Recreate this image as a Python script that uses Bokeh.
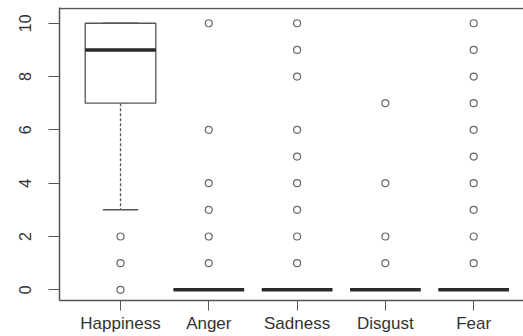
from bokeh.plotting import figure
from bokeh.models import Range1d, FixedTicker, ColumnDataSource
from bokeh.embed import file_html
from bokeh.resources import INLINE

categories = ["Happiness", "Anger", "Sadness", "Disgust", "Fear"]
q1 = [7, 0, 0, 0, 0]
median = [9, 0, 0, 0, 0]
q3 = [10, 0, 0, 0, 0]
whisker_low = [3, 0, 0, 0, 0]
whisker_high = [10, 0, 0, 0, 0]
outliers = {
    "Happiness": [2, 1, 0],
    "Anger": [10, 6, 4, 3, 2, 1],
    "Sadness": [10, 9, 8, 6, 5, 4, 3, 2, 1],
    "Disgust": [7, 4, 2, 1],
    "Fear": [10, 9, 8, 7, 6, 5, 4, 3, 2, 1],
}
y_ticks = [0, 2, 4, 6, 8, 10]

pos = list(range(1, len(categories) + 1))
half = 0.4
cap = 0.2
line_col = "#555555"
text_col = "#333333"
font = "Liberation Sans"
y_top = 10.59

p = figure(width=523, height=336, output_backend="svg", toolbar_location=None,
           x_range=Range1d(0.309, 5.564), y_range=Range1d(-0.40, y_top),
           min_border_left=59, min_border_bottom=36, min_border_top=7, min_border_right=0)
p.grid.visible = False
p.outline_line_color = None
p.background_fill_color = "white"
p.border_fill_color = "white"

src = ColumnDataSource(dict(
    x=pos,
    left=[x - half for x in pos], right=[x + half for x in pos],
    cl=[x - cap for x in pos], cr=[x + cap for x in pos],
    q1=q1, q3=q3, med=median, lo=whisker_low, hi=whisker_high,
))

# whiskers
p.segment(x0="x", y0="q1", x1="x", y1="lo", source=src, line_color=line_col,
          line_width=1.3, line_dash="3 2")
p.segment(x0="x", y0="q3", x1="x", y1="hi", source=src, line_color=line_col,
          line_width=1.3, line_dash="3 2")
# caps
p.segment(x0="cl", y0="lo", x1="cr", y1="lo", source=src, line_color=line_col, line_width=1.5)
p.segment(x0="cl", y0="hi", x1="cr", y1="hi", source=src, line_color=line_col, line_width=1.5)
# boxes
p.quad(left="left", right="right", bottom="q1", top="q3", source=src,
       fill_color="white", line_color=line_col, line_width=1.3)
# medians
p.segment(x0="left", y0="med", x1="right", y1="med", source=src,
          line_color="#2a2a2a", line_width=3.5)

# outliers
ox, oy = [], []
for i, c in enumerate(categories):
    for v in outliers[c]:
        ox.append(pos[i])
        oy.append(v)
p.scatter(ox, oy, marker="circle", size=7, fill_color=None, line_color="#666666", line_width=1.2)

# top border of the plot box (just inside the frame)
p.hspan(y=[y_top - 0.03], line_color=line_col, line_width=1.5)

# axes
ax = p.xaxis[0]
ax.ticker = FixedTicker(ticks=pos)
ax.major_label_overrides = {x: c for x, c in zip(pos, categories)}
ax.axis_line_color = line_col
ax.axis_line_width = 1.5
ax.major_tick_line_color = line_col
ax.major_tick_out = 10
ax.major_tick_in = 0
ax.minor_tick_line_color = None
ax.major_label_text_font = font
ax.major_label_text_font_size = "17px"
ax.major_label_text_color = text_col
ax.major_label_standoff = 3

ay = p.yaxis[0]
ay.ticker = FixedTicker(ticks=y_ticks)
ay.axis_line_color = line_col
ay.axis_line_width = 1.5
ay.major_tick_line_color = line_col
ay.major_tick_out = 11
ay.major_tick_in = 0
ay.minor_tick_line_color = None
ay.major_label_orientation = "vertical"
ay.major_label_text_font = font
ay.major_label_text_font_size = "16px"
ay.major_label_text_color = text_col
ay.major_label_standoff = 17

open("out.html", "w").write(file_html(p, INLINE))
